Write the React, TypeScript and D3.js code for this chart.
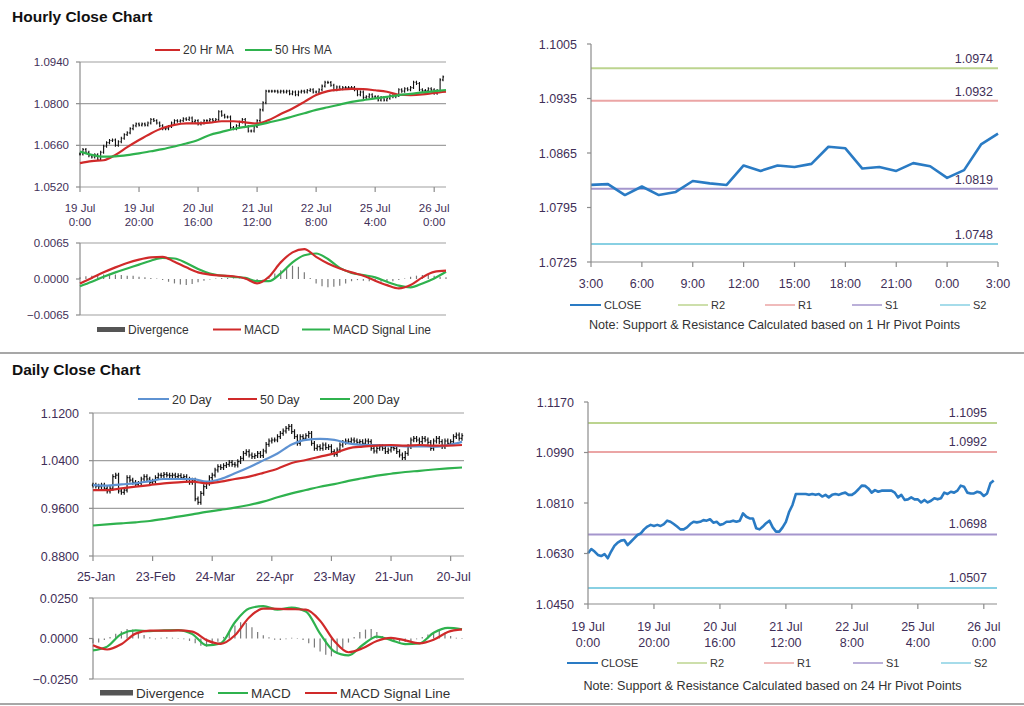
import React from 'react';
import * as d3 from 'd3';

// ---------------- Hourly data (19 Jul 0:00 .. 26 Jul 3:00, one value per hour) ----------------
const hourlyClose = [
  1.0631, 1.0646, 1.0637, 1.0625, 1.0621, 1.0628, 1.0613, 1.0637, 1.0657, 1.0669,
  1.0676, 1.0678, 1.0660, 1.0672, 1.0684, 1.0696, 1.0702, 1.0716, 1.0726, 1.0732,
  1.0728, 1.0732, 1.0728, 1.0735, 1.0747, 1.0743, 1.0735, 1.0726, 1.0716, 1.0716,
  1.0723, 1.0735, 1.0743, 1.0741, 1.0743, 1.0749, 1.0747, 1.0752, 1.0740, 1.0743,
  1.0732, 1.0735, 1.0743, 1.0743, 1.0747, 1.0743, 1.0747, 1.0773, 1.0761, 1.0755,
  1.0755, 1.0720, 1.0716, 1.0726, 1.0738, 1.0747, 1.0723, 1.0708, 1.0708, 1.0723,
  1.0743, 1.0779, 1.0803, 1.0842, 1.0842, 1.0842, 1.0842, 1.0839, 1.0842, 1.0839,
  1.0842, 1.0833, 1.0839, 1.0830, 1.0839, 1.0842, 1.0839, 1.0844, 1.0847, 1.0839,
  1.0839, 1.0847, 1.0859, 1.0872, 1.0871, 1.0862, 1.0847, 1.0856, 1.0850, 1.0854,
  1.0854, 1.0854, 1.0854, 1.0847, 1.0830, 1.0839, 1.0821, 1.0823, 1.0830, 1.0823,
  1.0823, 1.0812, 1.0821, 1.0812, 1.0818, 1.0827, 1.0823, 1.0827, 1.0847, 1.0842,
  1.0850, 1.0847, 1.0854, 1.0872, 1.0868, 1.0847, 1.0844, 1.0844, 1.0850, 1.0847,
  1.0835, 1.0844, 1.0880, 1.0890,
];
const hourlyTickHours = [0, 20, 40, 60, 80, 100, 120];
const hourlyTickLabels = [
  ['19 Jul', '0:00'], ['19 Jul', '20:00'], ['20 Jul', '16:00'], ['21 Jul', '12:00'],
  ['22 Jul', '8:00'], ['25 Jul', '4:00'], ['26 Jul', '0:00'],
];
const hourlyPriceTicks = [1.052, 1.066, 1.08, 1.094];
const hourlyMacdTicks = [-0.0065, 0, 0.0065];

// moving averages / MACD sampled every 4 hours
const H_STEP = 4;
const ma20Hr = [
  1.0600, 1.0607, 1.0610, 1.0628, 1.0654, 1.0678, 1.0700, 1.0718, 1.0729, 1.0734,
  1.0734, 1.0736, 1.0741, 1.0741, 1.0737, 1.0733, 1.0745, 1.0765, 1.0784, 1.0806,
  1.0829, 1.0842, 1.0847, 1.0850, 1.0849, 1.0845, 1.0840, 1.0830, 1.0829, 1.0831,
  1.0836, 1.0840,
];
const ma50Hr = [
  1.0639, 1.0628, 1.0622, 1.0623, 1.0627, 1.0633, 1.0640, 1.0647, 1.0656, 1.0666,
  1.0678, 1.0695, 1.0705, 1.0715, 1.0722, 1.0728, 1.0737, 1.0746, 1.0757, 1.0768,
  1.0779, 1.0788, 1.0797, 1.0806, 1.0812, 1.0818, 1.0823, 1.0829, 1.0833, 1.0838,
  1.0842, 1.0846,
];
const hourlyMacd = [
  -0.0008, 0.0002, 0.0012, 0.0021, 0.0029, 0.0035, 0.0039, 0.0040, 0.0031, 0.0021,
  0.0012, 0.0008, 0.0006, 0.0005, 0.0001, -0.0008, 0.0004, 0.0030, 0.0048, 0.0054,
  0.0040, 0.0028, 0.0019, 0.0012, 0.0006, -0.0003, -0.0011, -0.0017, -0.0011, 0.0003,
  0.0013, 0.0015,
];
const hourlySignal = [
  -0.0013, -0.0005, 0.0004, 0.0012, 0.0019, 0.0026, 0.0033, 0.0038, 0.0037, 0.0029,
  0.0018, 0.0010, 0.0006, 0.0004, 0.0002, -0.0004, -0.0004, 0.0010, 0.0030, 0.0043,
  0.0046, 0.0036, 0.0020, 0.0011, 0.0007, 0.0003, -0.0005, -0.0012, -0.0015, -0.0008,
  0.0001, 0.0013,
];
// divergence sampled every 2 hours
const HD_STEP = 2;
const hourlyDivergence = [
  0.0003, 0.0005, 0.0006, 0.0007, 0.0008, 0.0008, 0.0008, 0.0007, 0.0006, 0.0006,
  0.0004, 0.0003, 0.0002, 0.0001, -0.0002, -0.0005, -0.0008, -0.0010, -0.0011, -0.0009,
  -0.0006, -0.0003, -0.0001, 0.0001, 0.0002, 0.0002, 0.0001, 0.0001, -0.0001, -0.0002,
  -0.0003, -0.0001, 0.0004, 0.0010, 0.0016, 0.0020, 0.0024, 0.0022, 0.0012, 0.0002,
  -0.0008, -0.0013, -0.0015, -0.0014, -0.0012, -0.0008, -0.0004, -0.0002, -0.0003, -0.0004,
  -0.0004, -0.0005, -0.0005, -0.0004, -0.0002, 0.0001, 0.0004, 0.0006, 0.0007, 0.0008,
  0.0006, 0.0004, 0.0003,
];

// ---------------- Last 24 hours (3:00 .. 3:00) ----------------
const last24Labels = ['3:00', '6:00', '9:00', '12:00', '15:00', '18:00', '21:00', '0:00', '3:00'];
const last24Close = [
  1.0824, 1.0825, 1.0811, 1.0822, 1.0811, 1.0815, 1.0829, 1.0826, 1.0824, 1.0849,
  1.0842, 1.0849, 1.0847, 1.0851, 1.0873, 1.0871, 1.0845, 1.0847, 1.0842, 1.0852,
  1.0848, 1.0833, 1.0843, 1.0876, 1.0890,
];
const hourPivotTicks = [1.0725, 1.0795, 1.0865, 1.0935, 1.1005];
const pivotNames = ['R2', 'R1', 'S1', 'S2'];
const pivot1Hr = [1.0974, 1.0932, 1.0819, 1.0748];
const pivot24Hr = [1.1095, 1.0992, 1.0698, 1.0507];
const pivotColors = ['#bcd48f', '#eba5a5', '#a596cd', '#88d0e3'];
const dayPivotTicks = [1.045, 1.063, 1.081, 1.099, 1.117];

// ---------------- Daily data (25-Jan .. 26-Jul) ----------------
const dailyClose = [
  0.9991, 0.9974, 0.9963, 0.9991, 0.9935, 0.9891, 0.9935, 1.0131, 1.0159, 0.9891,
  0.9868, 0.9907, 1.0114, 1.0075, 1.0036, 1.0002, 1.0019, 1.0092, 1.0131, 1.0092,
  1.0036, 1.0058, 1.0114, 1.0159, 1.0148, 1.0170, 1.0159, 1.0148, 1.0159, 1.0131,
  1.0148, 1.0114, 1.0131, 1.0092, 1.0036, 1.0075, 0.9760, 0.9700, 0.9850, 0.9963,
  1.0019, 1.0114, 1.0159, 1.0243, 1.0299, 1.0282, 1.0316, 1.0338, 1.0372, 1.0338,
  1.0327, 1.0383, 1.0439, 1.0523, 1.0551, 1.0495, 1.0467, 1.0484, 1.0523, 1.0484,
  1.0562, 1.0674, 1.0730, 1.0747, 1.0747, 1.0803, 1.0858, 1.0898, 1.0942, 1.0975,
  1.0886, 1.0803, 1.0691, 1.0803, 1.0775, 1.0819, 1.0858, 1.0691, 1.0607, 1.0635,
  1.0607, 1.0663, 1.0618, 1.0635, 1.0551, 1.0506, 1.0579, 1.0663, 1.0707, 1.0730,
  1.0719, 1.0747, 1.0730, 1.0707, 1.0719, 1.0691, 1.0730, 1.0719, 1.0607, 1.0562,
  1.0607, 1.0635, 1.0607, 1.0551, 1.0579, 1.0618, 1.0607, 1.0551, 1.0495, 1.0450,
  1.0523, 1.0635, 1.0747, 1.0775, 1.0747, 1.0719, 1.0775, 1.0747, 1.0707, 1.0607,
  1.0730, 1.0775, 1.0719, 1.0635, 1.0730, 1.0691, 1.0719, 1.0803, 1.0831, 1.0775,
  1.0819,
];
const dailyTickIdx = [0, 21, 42, 63, 84, 105, 126];
const dailyTickLabels = ['25-Jan', '23-Feb', '24-Mar', '22-Apr', '23-May', '21-Jun', '20-Jul'];
const dailyPriceTicks = [0.88, 0.96, 1.04, 1.12];
const dailyMacdTicks = [-0.025, 0, 0.025];

// sampled every 5 days
const D_STEP = 5;
const ma20Day = [
  0.9991, 0.9980, 1.0002, 1.0019, 1.0058, 1.0092, 1.0092, 1.0092, 1.0047, 1.0092,
  1.0187, 1.0290, 1.0405, 1.0520, 1.0670, 1.0750, 1.0765, 1.0750, 1.0690, 1.0665,
  1.0660, 1.0650, 1.0640, 1.0640, 1.0635, 1.0660, 1.0715,
];
const ma50Day = [
  0.9907, 0.9907, 0.9935, 0.9963, 0.9991, 1.0019, 1.0036, 1.0047, 1.0019, 1.0047,
  1.0092, 1.0131, 1.0195, 1.0265, 1.0360, 1.0411, 1.0467, 1.0523, 1.0607, 1.0635,
  1.0652, 1.0663, 1.0652, 1.0663, 1.0652, 1.0652, 1.0663,
];
const ma200Day = [
  0.9312, 0.9331, 0.9348, 0.9365, 0.9387, 0.9421, 0.9460, 0.9499, 0.9540, 0.9575,
  0.9611, 0.9656, 0.9712, 0.9785, 0.9851, 0.9907, 0.9963, 1.0005, 1.0060, 1.0105,
  1.0150, 1.0180, 1.0210, 1.0230, 1.0252, 1.0270, 1.0285,
];
const dailyMacd = [
  -0.0073, -0.0050, 0.0028, 0.0050, 0.0045, 0.0050, 0.0052, 0.0027, -0.0042, -0.0030,
  0.0100, 0.0185, 0.0200, 0.0178, 0.0190, 0.0167, 0.0030, -0.0080, -0.0104, -0.0040,
  0.0012, -0.0010, -0.0035, -0.0030, 0.0035, 0.0065, 0.0056,
];
const dailySignal = [
  -0.0042, -0.0068, -0.0035, 0.0030, 0.0048, 0.0048, 0.0050, 0.0042, -0.0010, -0.0033,
  0.0020, 0.0130, 0.0185, 0.0183, 0.0181, 0.0178, 0.0110, -0.0015, -0.0085, -0.0060,
  -0.0015, 0.0004, -0.0012, -0.0030, -0.0008, 0.0040, 0.0056,
];
const DD_STEP = 2;
const dailyDivergence = [
  -0.0030, -0.0025, -0.0010, 0.0010, 0.0030, 0.0045, 0.0058, 0.0055, 0.0040, 0.0022,
  0.0008, -0.0005, 0.0005, 0.0008, 0.0005, 0.0003, -0.0005, -0.0015, -0.0030, -0.0045,
  -0.0050, -0.0040, -0.0020, 0.0010, 0.0045, 0.0080, 0.0100, 0.0095, 0.0070, 0.0040,
  0.0020, 0.0008, -0.0008, -0.0010, -0.0005, 0.0005, 0.0003, -0.0010, -0.0030, -0.0055,
  -0.0080, -0.0100, -0.0110, -0.0095, -0.0060, -0.0025, 0.0010, 0.0040, 0.0055, 0.0058,
  0.0040, 0.0015, -0.0005, -0.0015, -0.0020, -0.0022, -0.0015, -0.0005, 0.0010, 0.0025,
  0.0040, 0.0048, 0.0035, 0.0015, 0.0005, -0.0003,
];

// ---------------- styling ----------------
const FONT = "Arial, 'Liberation Sans', Helvetica, sans-serif";
const LABEL = '#3f2f58';
const TEXT = '#333333';
const GRID = '#a0a0a0';
const AXIS = '#8c8c8c';
const RED = '#d02a2a';
const GREEN = '#2fb24e';
const BLUE20 = '#5e92d2';
const CLOSE = '#2a7bc4';

type Sc = d3.ScaleLinear<number, number>;

function ohlcPath(data: number[], x: Sc, y: Sc, pad: number, tick: number) {
  let p = '';
  data.forEach((c, i) => {
    const o = i > 0 ? data[i - 1] : c;
    const hi = Math.max(o, c) + pad;
    const lo = Math.min(o, c) - pad;
    const xi = x(i);
    p += `M${xi},${y(hi)}V${y(lo)}M${xi - tick},${y(o)}H${xi}M${xi},${y(c)}H${xi + tick}`;
  });
  return p;
}

function sampledLine(values: number[], step: number, x: Sc, y: Sc) {
  return d3
    .line<number>()
    .x((_, i) => x(i * step))
    .y((d) => y(d))
    .curve(d3.curveMonotoneX)(values) || '';
}

function Legend({ x1, x2, y, color, label, size, w = 2 }: any) {
  return (
    <g>
      <line x1={x1} x2={x2} y1={y} y2={y} stroke={color} strokeWidth={w} />
      <text x={x2 + 3} y={y + size * 0.36} fontSize={size} fill={TEXT}>{label}</text>
    </g>
  );
}

function YLabels({ ticks, y, x, size, fmt = '.4f' }: any) {
  const f = d3.format(fmt);
  return (
    <g>
      {ticks.map((t: number, i: number) => (
        <text key={i} x={x} y={y(t) + size * 0.36} fontSize={size} fill={LABEL} textAnchor="end">{f(t)}</text>
      ))}
    </g>
  );
}

function PivotChart({ x, y, close, pivots, yTicks, xTicks, xLabels, labelX, labelDy, leg, noteY, note }: any) {
  const [x0, x1] = x.range();
  const [yb, yt] = y.range();
  const f = d3.format('.4f');
  const line = d3.line<number>().x((_, i) => x(i)).y((d) => y(d))(close) || '';
  return (
    <g>
      {pivots.map((v: number, i: number) => (
        <g key={i}>
          <line x1={x0} x2={x1} y1={y(v)} y2={y(v)} stroke={pivotColors[i]} strokeWidth={2} />
          <text x={labelX} y={y(v) - labelDy} fontSize={12.5} fill={LABEL} textAnchor="end">{f(v)}</text>
        </g>
      ))}
      <path d={line} fill="none" stroke={CLOSE} strokeWidth={2.6} strokeLinejoin="round" />
      <line x1={x0} x2={x0} y1={yt} y2={yb} stroke={AXIS} strokeWidth={1.2} />
      <line x1={x0} x2={x1} y1={yb} y2={yb} stroke={AXIS} strokeWidth={1.2} />
      {yTicks.map((t: number, i: number) => (
        <line key={i} x1={x0 - 4} x2={x0} y1={y(t)} y2={y(t)} stroke={AXIS} strokeWidth={1.2} />
      ))}
      {xTicks.map((t: number, i: number) => (
        <line key={i} x1={x(t)} x2={x(t)} y1={yb} y2={yb + 5} stroke={AXIS} strokeWidth={1.2} />
      ))}
      {xLabels}
      <YLabels ticks={yTicks} y={y} x={x0 - 14} size={12.5} />
      <Legend x1={leg[0]} x2={leg[0] + 31} y={leg[5]} color={CLOSE} label="CLOSE" size={11} />
      {pivotNames.map((n, i) => (
        <Legend key={n} x1={leg[i + 1]} x2={leg[i + 1] + 30} y={leg[5]} color={pivotColors[i]} label={n} size={11} w={1.5} />
      ))}
      <text x={(x0 + x1) / 2 - 20} y={noteY} fontSize={12.6} fill={TEXT} textAnchor="middle">{note}</text>
    </g>
  );
}

export default function App() {
  // ---------- scales ----------
  const hx = d3.scaleLinear().domain([0, 124]).range([80, 446]);
  const hy = d3.scaleLinear().domain([1.052, 1.094]).range([187, 62]);
  const hmy = d3.scaleLinear().domain([-0.0065, 0.0065]).range([315, 243]);

  const trx = d3.scaleLinear().domain([0, 24]).range([591, 998]);
  const trY = d3.scaleLinear().domain([1.0725, 1.1005]).range([262, 44]);

  const brx = d3.scaleLinear().domain([0, 124]).range([588, 997]);
  const brY = d3.scaleLinear().domain([1.045, 1.117]).range([604, 402]);

  const dx = d3.scaleLinear().domain([0, 130]).range([93, 462]);
  const dy = d3.scaleLinear().domain([0.88, 1.12]).range([556, 413]);
  const dmy = d3.scaleLinear().domain([-0.025, 0.025]).range([679, 598]);

  const hourMacdLine = sampledLine(hourlyMacd, H_STEP, hx, hmy);
  const hourSignalLine = sampledLine(hourlySignal, H_STEP, hx, hmy);

  return (
    <svg width={1024} height={706} style={{ position: 'absolute', left: 0, top: 0, background: '#fff' }} fontFamily={FONT}>
      <rect x={0} y={0} width={1024} height={706} fill="#fff" />

      {/* ================= HOURLY (top-left) ================= */}
      <text x={12} y={22} fontSize={15.5} fontWeight="bold" fill="#111">Hourly Close Chart</text>
      <Legend x1={155} x2={180} y={50} color={RED} label="20 Hr MA" size={12} />
      <Legend x1={245} x2={272} y={50} color={GREEN} label="50 Hrs MA" size={12} />

      {hourlyPriceTicks.map((t, i) => (
        <g key={i}>
          <line x1={80} x2={446} y1={hy(t)} y2={hy(t)} stroke={GRID} strokeWidth={1.2} />
          <line x1={76} x2={80} y1={hy(t)} y2={hy(t)} stroke={AXIS} strokeWidth={1.2} />
        </g>
      ))}
      <line x1={80} x2={80} y1={hy(1.094)} y2={hy(1.052)} stroke={AXIS} strokeWidth={1.2} />
      {hourlyTickHours.map((h, i) => (
        <g key={i}>
          <line x1={hx(h)} x2={hx(h)} y1={187} y2={192} stroke={AXIS} strokeWidth={1.2} />
          <text x={hx(h)} y={212} fontSize={11.5} fill={LABEL} textAnchor="middle">{hourlyTickLabels[i][0]}</text>
          <text x={hx(h)} y={226} fontSize={11.5} fill={LABEL} textAnchor="middle">{hourlyTickLabels[i][1]}</text>
        </g>
      ))}
      <YLabels ticks={hourlyPriceTicks} y={hy} x={69} size={11.5} />
      <path d={ohlcPath(hourlyClose, hx, hy, 0.0005, 1)} stroke="#111" strokeWidth={1.1} fill="none" />
      <path d={sampledLine(ma20Hr, H_STEP, hx, hy)} stroke={RED} strokeWidth={2.2} fill="none" />
      <path d={sampledLine(ma50Hr, H_STEP, hx, hy)} stroke={GREEN} strokeWidth={2.2} fill="none" />

      {/* hourly MACD */}
      {[0.0065, -0.0065].map((t, i) => (
        <line key={i} x1={80} x2={446} y1={hmy(t)} y2={hmy(t)} stroke={GRID} strokeWidth={1.2} />
      ))}
      {hourlyMacdTicks.map((t, i) => (
        <line key={i} x1={76} x2={80} y1={hmy(t)} y2={hmy(t)} stroke={AXIS} strokeWidth={1.2} />
      ))}
      <line x1={80} x2={80} y1={hmy(0.0065)} y2={hmy(-0.0065)} stroke={AXIS} strokeWidth={1.2} />
      <YLabels ticks={hourlyMacdTicks} y={hmy} x={69} size={11.5} />
      {hourlyDivergence.map((v, i) => (
        <line key={i} x1={hx(i * HD_STEP)} x2={hx(i * HD_STEP)} y1={hmy(0)} y2={hmy(v)} stroke="#7a7a7a" strokeWidth={1.2} />
      ))}
      <path d={hourSignalLine} stroke={GREEN} strokeWidth={2.2} fill="none" />
      <path d={hourMacdLine} stroke={RED} strokeWidth={2.2} fill="none" />
      <rect x={97} y={327} width={28} height={5} fill="#555" />
      <text x={128} y={333.5} fontSize={12} fill={TEXT}>Divergence</text>
      <Legend x1={213} x2={241} y={329.5} color={RED} label="MACD" size={12} />
      <Legend x1={302} x2={330} y={329.5} color={GREEN} label="MACD Signal Line" size={12} />

      {/* ================= 1 Hr pivots (top-right) ================= */}
      <PivotChart
        x={trx}
        y={trY}
        close={last24Close}
        pivots={pivot1Hr}
        yTicks={hourPivotTicks}
        xTicks={last24Labels.map((_, i) => i * 3)}
        xLabels={last24Labels.map((l, i) => (
          <text key={i} x={trx(i * 3)} y={288} fontSize={12.5} fill={LABEL} textAnchor="middle">{l}</text>
        ))}
        labelX={993}
        labelDy={5}
        leg={[570, 678, 765, 852, 940, 305]}
        noteY={329}
        note="Note: Support & Resistance Calculated based on 1 Hr Pivot Points"
      />

      {/* separators */}
      <line x1={0} x2={1024} y1={353} y2={353} stroke="#8a8a8a" strokeWidth={1.5} />
      <line x1={0} x2={1024} y1={704} y2={704} stroke="#8a8a8a" strokeWidth={1.5} />

      {/* ================= DAILY (bottom-left) ================= */}
      <text x={12} y={375} fontSize={15.5} fontWeight="bold" fill="#111">Daily Close Chart</text>
      <Legend x1={138} x2={169} y={399} color={BLUE20} label="20 Day" size={12.5} />
      <Legend x1={228} x2={257} y={399} color={RED} label="50 Day" size={12.5} />
      <Legend x1={320} x2={350} y={399} color={GREEN} label="200 Day" size={12.5} />

      {dailyPriceTicks.map((t, i) => (
        <g key={i}>
          <line x1={93} x2={464} y1={dy(t)} y2={dy(t)} stroke={GRID} strokeWidth={1.2} />
          <line x1={89} x2={93} y1={dy(t)} y2={dy(t)} stroke={AXIS} strokeWidth={1.2} />
        </g>
      ))}
      <line x1={93} x2={93} y1={dy(1.12)} y2={dy(0.88)} stroke={AXIS} strokeWidth={1.2} />
      {dailyTickIdx.map((d, i) => (
        <g key={i}>
          <line x1={dx(d)} x2={dx(d)} y1={556} y2={561} stroke={AXIS} strokeWidth={1.2} />
          <text x={dx(d) + 3} y={581} fontSize={12.5} fill={LABEL} textAnchor="middle">{dailyTickLabels[i]}</text>
        </g>
      ))}
      <YLabels ticks={dailyPriceTicks} y={dy} x={79} size={12.5} />
      <path d={ohlcPath(dailyClose, dx, dy, 0.004, 1.2)} stroke="#111" strokeWidth={1.2} fill="none" />
      <path d={sampledLine(ma20Day, D_STEP, dx, dy)} stroke={BLUE20} strokeWidth={2.2} fill="none" />
      <path d={sampledLine(ma50Day, D_STEP, dx, dy)} stroke={RED} strokeWidth={2.2} fill="none" />
      <path d={sampledLine(ma200Day, D_STEP, dx, dy)} stroke={GREEN} strokeWidth={2.2} fill="none" />

      {/* daily MACD */}
      {[0.025, -0.025].map((t, i) => (
        <line key={i} x1={93} x2={464} y1={dmy(t)} y2={dmy(t)} stroke={GRID} strokeWidth={1.2} />
      ))}
      {dailyMacdTicks.map((t, i) => (
        <line key={i} x1={89} x2={93} y1={dmy(t)} y2={dmy(t)} stroke={AXIS} strokeWidth={1.2} />
      ))}
      <line x1={93} x2={93} y1={dmy(0.025)} y2={dmy(-0.025)} stroke={AXIS} strokeWidth={1.2} />
      <YLabels ticks={dailyMacdTicks} y={dmy} x={78} size={12.5} />
      {dailyDivergence.map((v, i) => (
        <line key={i} x1={dx(i * DD_STEP)} x2={dx(i * DD_STEP)} y1={dmy(0)} y2={dmy(v)} stroke="#7a7a7a" strokeWidth={1.2} />
      ))}
      <path d={sampledLine(dailyMacd, D_STEP, dx, dmy)} stroke={GREEN} strokeWidth={2.2} fill="none" />
      <path d={sampledLine(dailySignal, D_STEP, dx, dmy)} stroke={RED} strokeWidth={2.2} fill="none" />
      <rect x={100} y={690} width={33} height={5.5} fill="#555" />
      <text x={136} y={697.5} fontSize={13.5} fill={TEXT}>Divergence</text>
      <Legend x1={218} x2={248} y={693} color={GREEN} label="MACD" size={13.5} />
      <Legend x1={305} x2={337} y={693} color={RED} label="MACD Signal Line" size={13.5} />

      {/* ================= 24 Hr pivots (bottom-right) ================= */}
      <PivotChart
        x={brx}
        y={brY}
        close={hourlyClose}
        pivots={pivot24Hr}
        yTicks={dayPivotTicks}
        xTicks={hourlyTickHours}
        xLabels={hourlyTickHours.map((h, i) => (
          <g key={i}>
            <text x={brx(h)} y={631} fontSize={12.5} fill={LABEL} textAnchor="middle">{hourlyTickLabels[i][0]}</text>
            <text x={brx(h)} y={647} fontSize={12.5} fill={LABEL} textAnchor="middle">{hourlyTickLabels[i][1]}</text>
          </g>
        ))}
        labelX={987}
        labelDy={6}
        leg={[567, 677, 764, 853, 941, 663]}
        noteY={690}
        note="Note: Support & Resistance Calculated based on 24 Hr Pivot Points"
      />
    </svg>
  );
}
